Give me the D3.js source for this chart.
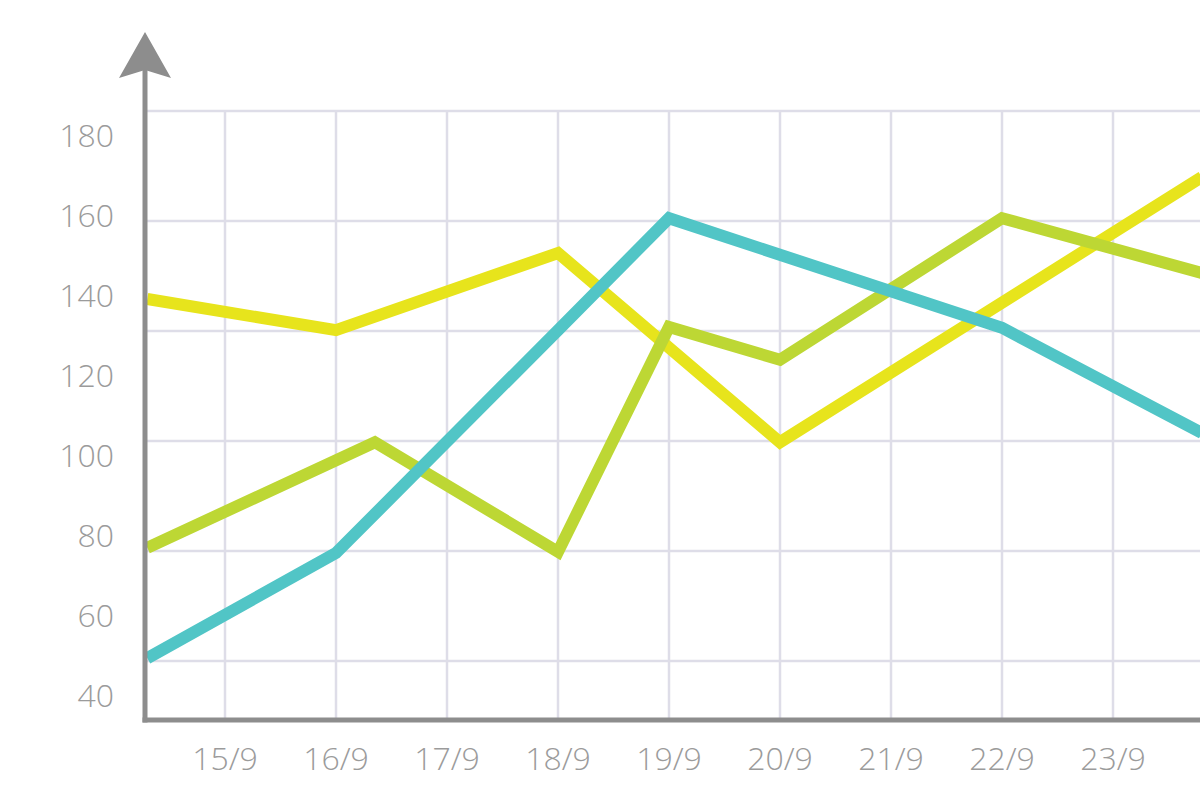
<!DOCTYPE html>
<html>
<head>
<meta charset="utf-8">
<script src="https://cdn.jsdelivr.net/npm/d3@7"></script>
<style>
  body { margin: 0; background: #fff; }
  svg { display: block; }
  .lbl { font-family: "Open Sans", sans-serif; font-weight: 300; fill: #9b9b9b; }
</style>
</head>
<body>
<svg width="1200" height="800"></svg>
<script>
// tick labels
var yTicks = [40, 60, 80, 100, 120, 140, 160, 180];
var xDays = [15, 16, 17, 18, 19, 20, 21, 22, 23];
var xLabels = ["15/9", "16/9", "17/9", "18/9", "19/9", "20/9", "21/9", "22/9", "23/9"];
// grid rows do not sit on the label values in the original
var gridValues = [48.5, 76, 103.5, 131, 158.5, 186];

// series (day of September, value)
var yellowDays = [14.3, 16, 18, 20, 23.8];
var yellowVals = [139, 131.2, 150.5, 103.2, 169.5];
var greenDays = [14.3, 16.35, 18, 19, 20, 22, 23.8];
var greenVals = [76.8, 103.2, 75.8, 132, 123.8, 159.2, 145.5];
var tealDays = [14.3, 16, 18, 19, 22, 23.8];
var tealVals = [49.2, 75.5, 131.2, 159.2, 131.8, 105.5];

function init() {
  var svg = d3.select("svg");
  var axisX = 145, axisY = 720, right = 1200;

  var x = d3.scaleLinear().domain([15, 23]).range([225, 1113]);
  var y = d3.scaleLinear().domain([40, 180]).range([695, 135]);

  var clip = svg.append("defs").append("clipPath").attr("id", "plot");
  clip.append("rect").attr("x", axisX).attr("y", 0).attr("width", right - axisX).attr("height", axisY);

  // grid
  var grid = svg.append("g").attr("stroke", "#dedde8").attr("stroke-width", 2.5);
  grid.selectAll(".h").data(gridValues).join("line")
      .attr("x1", axisX).attr("x2", right)
      .attr("y1", function (d) { return y(d); })
      .attr("y2", function (d) { return y(d); });
  grid.selectAll(".v").data(xDays).join("line")
      .attr("x1", function (d) { return x(d); })
      .attr("x2", function (d) { return x(d); })
      .attr("y1", y(d3.max(gridValues))).attr("y2", axisY);

  // lines
  var line = d3.line()
      .x(function (d) { return x(d[0]); })
      .y(function (d) { return y(d[1]); });
  var series = [
    { color: "#e7e41c", pts: d3.zip(yellowDays, yellowVals) },
    { color: "#bdd734", pts: d3.zip(greenDays, greenVals) },
    { color: "#51c5c6", pts: d3.zip(tealDays, tealVals) }
  ];
  svg.append("g").attr("clip-path", "url(#plot)")
    .selectAll("path").data(series).join("path")
      .attr("fill", "none")
      .attr("stroke", function (d) { return d.color; })
      .attr("stroke-width", 12)
      .attr("stroke-linejoin", "miter")
      .attr("d", function (d) { return line(d.pts); });

  // axes
  var ax = svg.append("g").attr("stroke", "#8d8d8d").attr("stroke-width", 5).attr("fill", "none");
  ax.append("line").attr("x1", axisX).attr("x2", axisX).attr("y1", 60).attr("y2", axisY + 2.5);
  ax.append("line").attr("x1", axisX - 2.5).attr("x2", right).attr("y1", axisY).attr("y2", axisY);
  svg.append("path")
      .attr("d", "M145,32 L171,78 L145,70 L119,78 Z")
      .attr("fill", "#8d8d8d");

  // labels
  svg.append("g").selectAll("text").data(yTicks).join("text")
      .attr("class", "lbl")
      .attr("x", 114)
      .attr("y", function (d) { return y(d); })
      .attr("dy", "0.36em")
      .attr("text-anchor", "end")
      .style("font-size", "32px")
      .text(function (d) { return d; });
  svg.append("g").selectAll("text").data(xDays).join("text")
      .attr("class", "lbl")
      .attr("x", function (d) { return x(d); })
      .attr("y", 770)
      .attr("text-anchor", "middle")
      .style("font-size", "32px")
      .text(function (d, i) { return xLabels[i]; });
}

window.onload = init;
</script>
</body>
</html>
